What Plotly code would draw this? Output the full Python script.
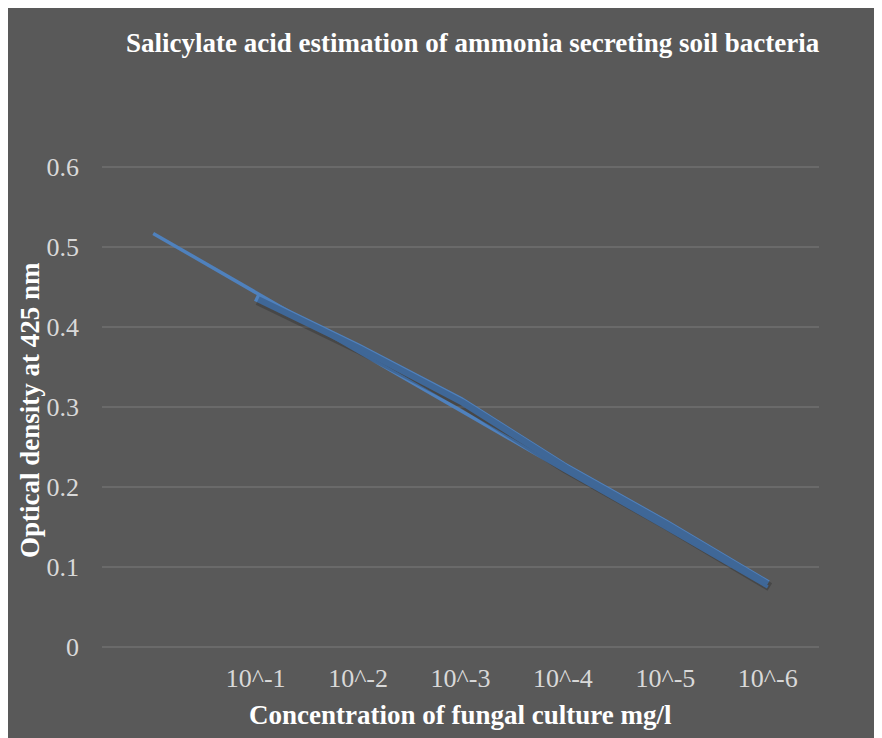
import plotly.graph_objects as go

categories = ["", "10^-1", "10^-2", "10^-3", "10^-4", "10^-5", "10^-6"]
od_values = [None, 0.437, 0.375, 0.308, 0.227, 0.155, 0.079]
trend_values = [0.517, 0.443, 0.370, 0.296, 0.222, 0.149, 0.075]
y_ticks = [0, 0.1, 0.2, 0.3, 0.4, 0.5, 0.6]

x_pos = list(range(len(categories)))
BLUE = "#4F81BD"
BG = "#595959"
FONT = "Liberation Serif, Times New Roman, serif"

fig = go.Figure()
# soft drop shadow (same data drawn on slightly offset overlay axes)
fig.add_trace(go.Scatter(x=x_pos, y=od_values, mode="lines", xaxis="x2", yaxis="y2",
                         line=dict(color="rgba(0,0,0,0.2)", width=9), hoverinfo="skip",
                         showlegend=False))
fig.add_trace(go.Scatter(x=x_pos, y=trend_values, mode="lines",
                         line=dict(color=BLUE, width=3.5), showlegend=False))
fig.add_trace(go.Scatter(x=x_pos, y=od_values, mode="lines",
                         line=dict(color=BLUE, width=7.5), showlegend=False))

W, H = 874, 730
L, R, T, B = 94, 63, 155, 87
pw, ph = W - L - R, H - T - B
PAD = 0.005

def px_x(px):
    return (px - L) / pw

def px_y(py):
    return (H - B - py) / ph

fig.update_layout(
    width=W, height=H,
    margin=dict(l=L, r=R, t=T, b=B),
    paper_bgcolor=BG,
    plot_bgcolor=BG,
    font=dict(family=FONT, color="#D9D9D9", size=27),
    showlegend=False,
    xaxis=dict(range=[-0.5, 6.5], tickmode="array", tickvals=x_pos, ticktext=categories,
               showgrid=False, zeroline=False, showline=False, ticks="",
               ticklabelstandoff=9, tickfont=dict(size=26, color="#D9D9D9")),
    yaxis=dict(range=[-PAD, 0.6 + PAD], tickmode="array", tickvals=y_ticks,
               ticktext=[f"{v:g}" for v in y_ticks],
               showgrid=True, gridcolor="#6A6A6A", gridwidth=1.5, zeroline=False,
               showline=False, ticks="", ticklabelstandoff=22,
               tickfont=dict(size=26, color="#D9D9D9")),
    xaxis2=dict(range=[-0.5 - 0.02, 6.5 - 0.02], overlaying="x", visible=False),
    yaxis2=dict(range=[-PAD + 0.004, 0.6 + PAD + 0.004], overlaying="y", visible=False),
    annotations=[
        dict(text="<b>Salicylate acid estimation of ammonia secreting soil bacteria</b>",
             xref="paper", yref="paper", x=px_x(465), y=px_y(35), showarrow=False,
             font=dict(family=FONT, size=27, color="white"), xanchor="center", yanchor="middle"),
        dict(text="<b>Concentration of fungal culture mg/l</b>",
             xref="paper", yref="paper", x=px_x(452), y=px_y(707), showarrow=False,
             font=dict(family=FONT, size=27, color="white"), xanchor="center", yanchor="middle"),
        dict(text="<b>Optical density at 425 nm</b>", textangle=-90,
             xref="paper", yref="paper", x=px_x(22), y=px_y(402), showarrow=False,
             font=dict(family=FONT, size=27, color="white"), xanchor="center", yanchor="middle"),
    ],
)

fig.write_html("out.html")
